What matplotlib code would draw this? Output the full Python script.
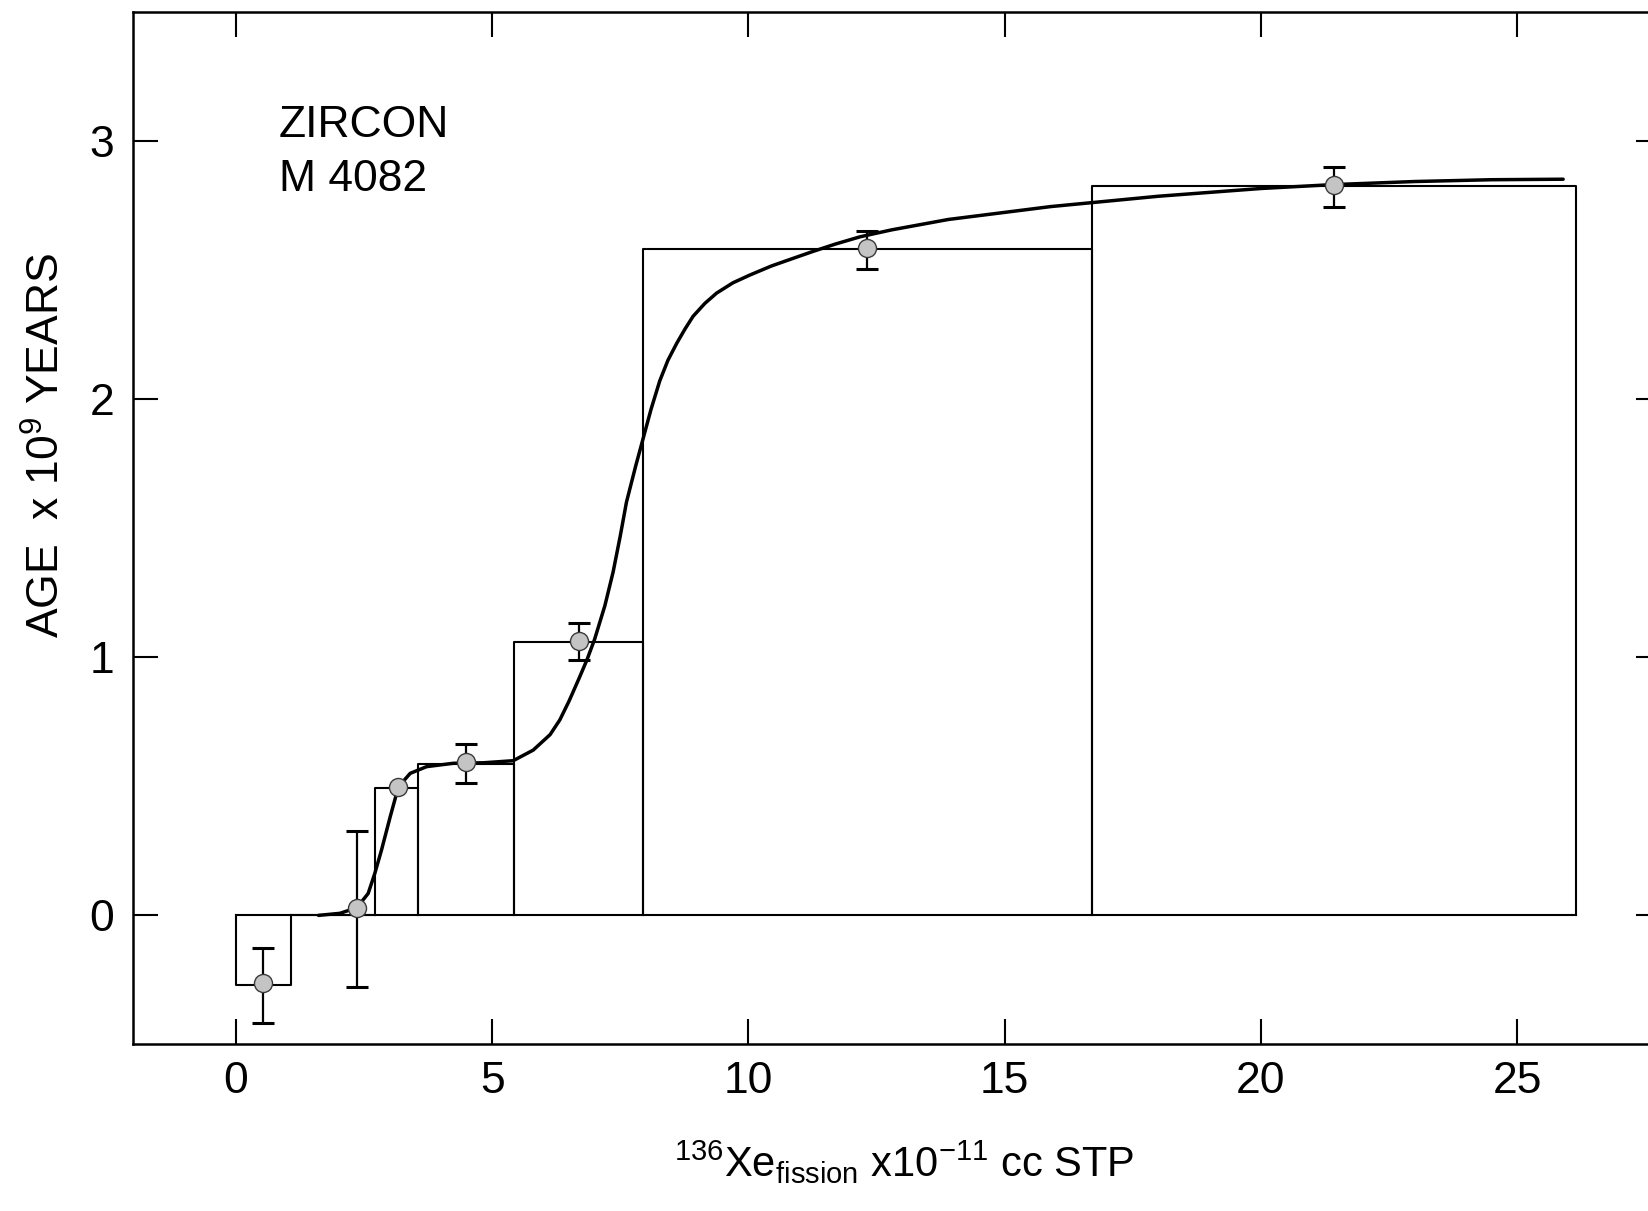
import matplotlib
matplotlib.use("Agg")
import matplotlib.pyplot as plt
import numpy as np

plt.rcParams['font.family'] = ['Liberation Sans', 'DejaVu Sans']
plt.rcParams['mathtext.fontset'] = 'custom'
plt.rcParams['mathtext.rm'] = 'Liberation Sans'
plt.rcParams['mathtext.it'] = 'Liberation Sans'

# step boxes: Xe released per heating step (cumulative edges) and apparent age
box_edges = [0, 1.07, 2.71, 3.55, 5.42, 7.94, 16.70, 26.15]
box_ages = [-0.27, 0.0, 0.495, 0.588, 1.06, 2.58, 2.825]

# measured points with asymmetric errors
pt_x = [0.53, 2.36, 3.16, 4.48, 6.69, 12.31, 21.42]
pt_age = [-0.263, 0.027, 0.498, 0.593, 1.062, 2.585, 2.829]
err_lo = [0.155, 0.303, 0.0, 0.079, 0.073, 0.081, 0.085]
err_hi = [0.136, 0.300, 0.0, 0.071, 0.070, 0.066, 0.069]

# hand drawn curve through the steps
curve_x = [1.61, 2.03, 2.36, 2.58, 2.71, 2.84, 3.01, 3.17, 3.40, 3.72, 4.24,
           4.83, 5.41, 5.80, 6.13, 6.32, 6.50, 6.70, 6.85, 7.00, 7.20, 7.36,
           7.50, 7.62, 7.80, 7.95, 8.10, 8.27, 8.43, 8.60, 8.76, 8.92, 9.15,
           9.38, 9.70, 10.03, 10.45, 10.88, 11.27, 11.70, 12.18, 12.8, 13.9,
           15.9, 18.0, 20.0, 21.4, 23.0, 24.5, 25.9]
curve_y = [0.0, 0.008, 0.03, 0.085, 0.163, 0.253, 0.382, 0.498, 0.55, 0.576,
           0.589, 0.591, 0.599, 0.64, 0.70, 0.757, 0.83, 0.92, 0.99, 1.07,
           1.20, 1.33, 1.47, 1.60, 1.74, 1.85, 1.96, 2.07, 2.15, 2.215, 2.27,
           2.32, 2.37, 2.41, 2.45, 2.48, 2.515, 2.545, 2.572, 2.60, 2.628,
           2.655, 2.695, 2.745, 2.785, 2.815, 2.83, 2.842, 2.849, 2.851]

xticks = [0, 5, 10, 15, 20, 25]
yticks = [0, 1, 2, 3]

fig = plt.figure(figsize=(16.48, 12.11), dpi=100)
ax = fig.add_axes([0.081, 0.1375, 0.9266, 0.8529])

# baseline and boxes
ax.plot([box_edges[0], box_edges[-1]], [0, 0], color='black', lw=1.5)
for i in range(len(box_ages)):
    x0, x1, h = box_edges[i], box_edges[i + 1], box_ages[i]
    ax.plot([x0, x0, x1, x1], [0, h, h, 0], color='black', lw=1.5,
            solid_joinstyle='round')

ax.plot(curve_x, curve_y, color='black', lw=2.5, solid_capstyle='round',
        solid_joinstyle='round')

px = np.array(pt_x)
py = np.array(pt_age)
lo = np.array(err_lo)
hi = np.array(err_hi)
m = (lo + hi) > 0
ax.errorbar(px[m], py[m], yerr=[lo[m], hi[m]], fmt='none', ecolor='black',
            elinewidth=1.6, capsize=8, capthick=2.2)
ax.plot(px, py, 'o', ms=13, mfc='#c4c4c4', mec='#3a3a3a', mew=1.0)

ax.set_xlim(-2, 27.8)
ax.set_ylim(-0.5, 3.5)
ax.set_xticks(xticks)
ax.set_yticks(yticks)
ax.set_xticklabels([str(t) for t in xticks])
ax.set_yticklabels([str(t) for t in yticks])
ax.tick_params(direction='in', length=18, width=1.5, labelsize=32,
               top=True, right=True)
ax.tick_params(axis='x', pad=12)
ax.tick_params(axis='y', pad=14)
for s in ax.spines.values():
    s.set_linewidth(1.8)

fig.text(0.1693, 0.8869, 'ZIRCON', fontsize=32, va='baseline')
fig.text(0.1693, 0.8423, 'M 4082', fontsize=32, va='baseline')

fig.text(0.0285, 0.6325, r'AGE  x 10$^{9}$ YEARS', fontsize=32,
         rotation=90, ha='center', va='center')
fig.text(0.5485, 0.028, r'$^{136}$Xe$_{\mathrm{fission}}$ x10$^{-11}$ cc STP',
         fontsize=30, ha='center', va='baseline')

fig.savefig('out.png', dpi=100)
